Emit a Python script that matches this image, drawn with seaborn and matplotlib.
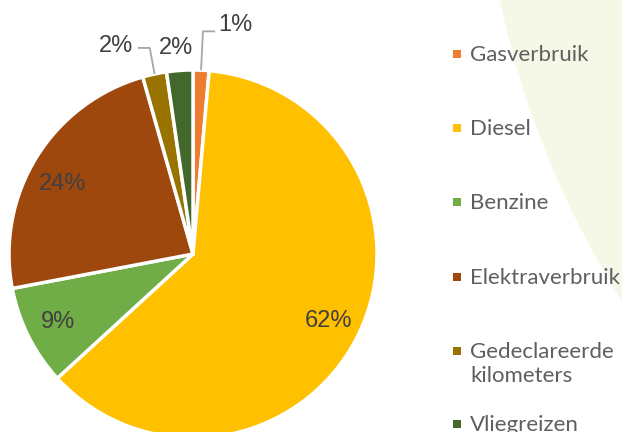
"""
Taartdiagram CO2-uitstoot per bron
"""
import matplotlib.pyplot as plt
import matplotlib.patches as mpatches
import seaborn as sns
import numpy as np

sns.set_theme(style="white")
plt.rcParams['font.family'] = ['Liberation Sans', 'DejaVu Sans']

# Data
categories = ['Gasverbruik', 'Diesel', 'Benzine', 'Elektraverbruik',
              'Gedeclareerde\nkilometers', 'Vliegreizen']
shares = [1.4, 61.8, 8.8, 23.6, 2.1, 2.3]
colors = ['#ED7D31', '#FFC000', '#70AD47', '#9E480E', '#997300', '#43682B']

W, H = 622, 432
fig = plt.figure(figsize=(W / 100, H / 100), dpi=100)
fig.patch.set_facecolor('white')

# Achtergrond: lichtgroene cirkel rechts
bg = fig.add_axes([0, 0, 1, 1], zorder=0)
bg.set_xlim(0, W)
bg.set_ylim(H, 0)
bg.axis('off')
bg.add_patch(mpatches.Circle((1400, -190), 920, facecolor='#f5f8e6', edgecolor='none'))

# Taart: middelpunt (193, 254) px, straal 184 px
cx, cy, r = 193, 254, 184
ax = fig.add_axes([(cx - r) / W, (H - cy - r) / H, 2 * r / W, 2 * r / H], zorder=1)
ax.patch.set_alpha(0)

wedges, _, autotexts = ax.pie(
    shares, colors=colors, startangle=90, counterclock=False,
    autopct='%1.0f%%', pctdistance=0.82,
    wedgeprops=dict(edgecolor='white', linewidth=2.5),
    textprops=dict(color='#404040', fontsize=17))
ax.set_xlim(-1, 1)
ax.set_ylim(-1, 1)
ax.set_aspect('equal')

# Labelposities die afwijken van de standaard
label_pos = {0: (0.23, 1.245), 3: (-0.71, 0.38), 4: (-0.42, 1.13), 5: (-0.09, 1.12)}
for i, (tx, ty) in label_pos.items():
    t = autotexts[i]
    t.set_position((tx, ty))
    t.set_clip_on(False)

def leader(i, knee, end):
    w = wedges[i]
    ang = np.deg2rad((w.theta1 + w.theta2) / 2)
    x0, y0 = np.cos(ang) * 1.0, np.sin(ang) * 1.0
    ax.plot([x0, knee[0], end[0]], [y0, knee[1], end[1]],
            color='#a6a6a6', lw=1.3, clip_on=False, solid_capstyle='butt')

leader(0, (0.054, 1.21), (0.12, 1.21))
leader(4, (-0.235, 1.12), (-0.30, 1.12))

# Legenda (handmatig, zoals in het origineel)
leg_y = [54, 128, 202, 277, 351, 424]
for cat, col, y in zip(categories, colors, leg_y):
    bg.add_patch(mpatches.Rectangle((453, y - 4), 8, 8, facecolor=col, edgecolor='none'))
    bg.text(470, y - 9, cat, ha='left', va='top', fontsize=16,
            color='#5f5f5f', family=['Lato', 'DejaVu Sans'], linespacing=1.25)

plt.savefig('out.png', dpi=100)
